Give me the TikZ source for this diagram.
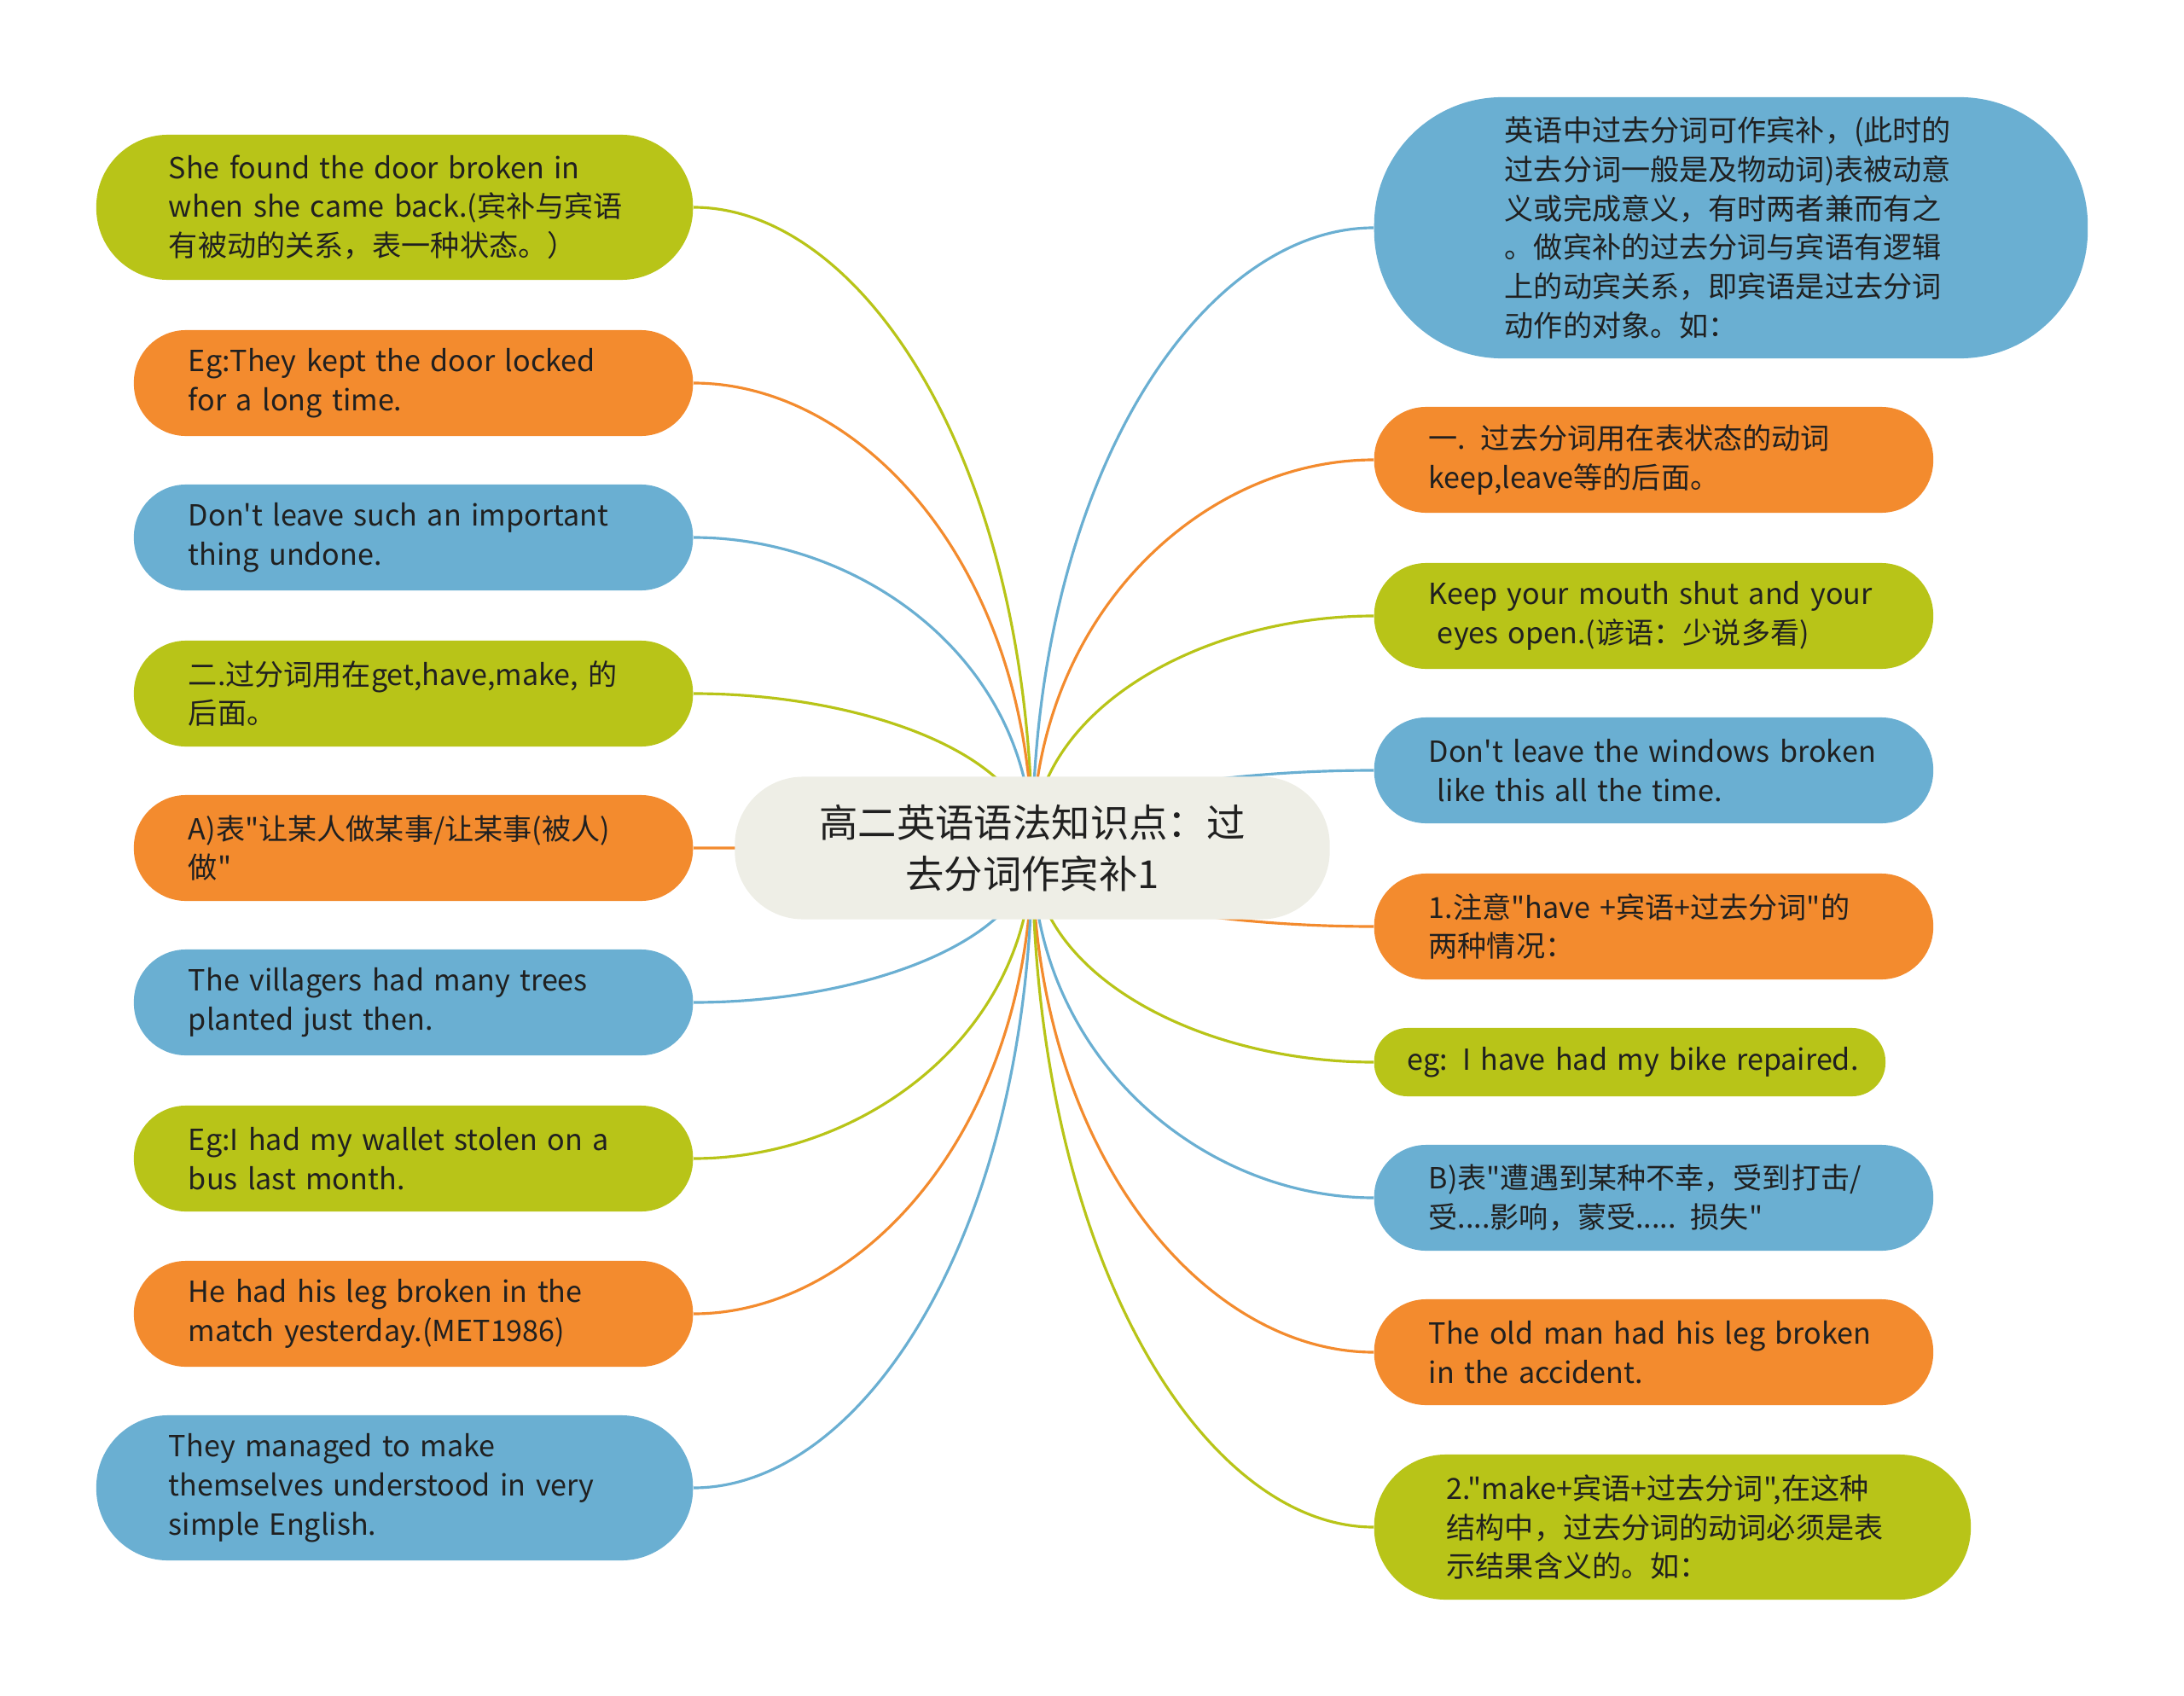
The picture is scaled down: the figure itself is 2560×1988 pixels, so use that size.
\documentclass[tikz,border=0pt]{standalone}
\usepackage{fontspec}
\setmainfont{Noto Sans CJK SC}[Ligatures=TeXOff]
\usetikzlibrary{calc,backgrounds}

\definecolor{cgreen}{RGB}{184,196,24}
\definecolor{corange}{RGB}{243,139,46}
\definecolor{cblue}{RGB}{106,175,210}
\definecolor{croot}{RGB}{238,238,230}
\definecolor{ctext}{RGB}{32,32,32}

\tikzset{
  root/.style={fill=croot, rounded corners=0.8cm, minimum width=6.97cm, minimum height=1.67cm,
    align=center, text=ctext, font=\fontsize{12.9}{17}\selectfont},
  leaf/.style={rounded corners=0.61cm, minimum height=1.24cm, inner xsep=0.2cm, text width=6.15cm,
    align=left, text=ctext, font=\fontsize{9.7}{13}\selectfont,
    execute at begin node={\leftskip=0.44cm\hyphenpenalty=10000}},
  bigleaf/.style={leaf, rounded corners=0.84cm, minimum height=1.70cm, text width=6.59cm,
    execute at begin node={\leftskip=0.65cm}},
  branch/.style={line width=0.9pt,
    to path={.. controls ($(\tikztostart)!0.6!(\tikztostart |- \tikztotarget)$)
      and ($(\tikztotarget)!0.5!(\tikztostart |- \tikztotarget)$) .. (\tikztotarget)}}
}

\begin{document}
\begin{tikzpicture}[x=0.01cm,y=-0.01cm]
  \useasboundingbox (0,0) rectangle (2560,1988);

  % central topic
  \node[root] (root) at (1210,994) {高二英语语法知识点：过\\去分词作宾补1};

  % left side
  \node[bigleaf, fill=cgreen, anchor=east] (l1) at (813,243)
    {She found the door broken in\\when she came back.(宾补与宾语\\有被动的关系，表一种状态。）};
  \node[leaf, fill=corange, anchor=east] (l2) at (813,449) {Eg:They kept the door locked\\for a long time.};
  \node[leaf, fill=cblue, anchor=east] (l3) at (813,630) {Don't leave such an important\\thing undone.};
  \node[leaf, fill=cgreen, anchor=east] (l4) at (813,813) {二.过分词用在get,have,make, 的\\后面。};
  \node[leaf, fill=corange, anchor=east] (l5) at (813,994) {A)表"让某人做某事/让某事(被人)\\做"};
  \node[leaf, fill=cblue, anchor=east] (l6) at (813,1175) {The villagers had many trees\\planted just then.};
  \node[leaf, fill=cgreen, anchor=east] (l7) at (813,1358) {Eg:I had my wallet stolen on a\\bus last month.};
  \node[leaf, fill=corange, anchor=east] (l8) at (813,1540) {He had his leg broken in the\\match yesterday.(MET1986)};
  \node[bigleaf, fill=cblue, anchor=east] (l9) at (813,1744)
    {They managed to make\\themselves understood in very\\simple English.};

  % right side
  \node[leaf, fill=cblue, anchor=west, rounded corners=1.5cm, minimum height=3.06cm, text width=7.96cm,
    execute at begin node={\leftskip=1.33cm}] (r1) at (1610,267)
    {英语中过去分词可作宾补，(此时的\\过去分词一般是及物动词)表被动意\\义或完成意义，有时两者兼而有之\\。做宾补的过去分词与宾语有逻辑\\上的动宾关系，即宾语是过去分词\\动作的对象。如：};
  \node[leaf, fill=corange, anchor=west] (r2) at (1610,539) {一. 过去分词用在表状态的动词\\keep,leave等的后面。};
  \node[leaf, fill=cgreen, anchor=west] (r3) at (1610,722) {Keep your mouth shut and your\\\hspace*{0.3em}eyes open.(谚语：少说多看)};
  \node[leaf, fill=cblue, anchor=west] (r4) at (1610,903) {Don't leave the windows broken\\\hspace*{0.3em}like this all the time.};
  \node[leaf, fill=corange, anchor=west] (r5) at (1610,1086) {1.注意"have +宾语+过去分词"的\\两种情况：};
  \node[leaf, fill=cgreen, anchor=west, rounded corners=0.39cm, minimum height=0.80cm, text width=5.59cm,
    execute at begin node={\leftskip=0.19cm}] (r6) at (1610,1245) {eg: I have had my bike repaired.};
  \node[leaf, fill=cblue, anchor=west] (r7) at (1610,1404) {B)表"遭遇到某种不幸，受到打击/\\受....影响，蒙受..... 损失"};
  \node[leaf, fill=corange, anchor=west] (r8) at (1610,1585) {The old man had his leg broken\\in the accident.};
  \node[bigleaf, fill=cgreen, anchor=west] (r9) at (1610,1790)
    {2."make+宾语+过去分词",在这种\\结构中，过去分词的动词必须是表\\示结果含义的。如：};

  % connectors
  \begin{pgfonlayer}{background}
    \draw[branch, cgreen] (root.center) to (l1.east);
    \draw[branch, corange] (root.center) to (l2.east);
    \draw[branch, cblue] (root.center) to (l3.east);
    \draw[branch, cgreen] (root.center) to (l4.east);
    \draw[branch, corange] (root.center) to (l5.east);
    \draw[branch, cblue] (root.center) to (l6.east);
    \draw[branch, cgreen] (root.center) to (l7.east);
    \draw[branch, corange] (root.center) to (l8.east);
    \draw[branch, cblue] (root.center) to (l9.east);
    \draw[branch, cblue] (root.center) to (r1.west);
    \draw[branch, corange] (root.center) to (r2.west);
    \draw[branch, cgreen] (root.center) to (r3.west);
    \draw[branch, cblue] (root.center) to (r4.west);
    \draw[branch, corange] (root.center) to (r5.west);
    \draw[branch, cgreen] (root.center) to (r6.west);
    \draw[branch, cblue] (root.center) to (r7.west);
    \draw[branch, corange] (root.center) to (r8.west);
    \draw[branch, cgreen] (root.center) to (r9.west);
  \end{pgfonlayer}
\end{tikzpicture}
\end{document}
